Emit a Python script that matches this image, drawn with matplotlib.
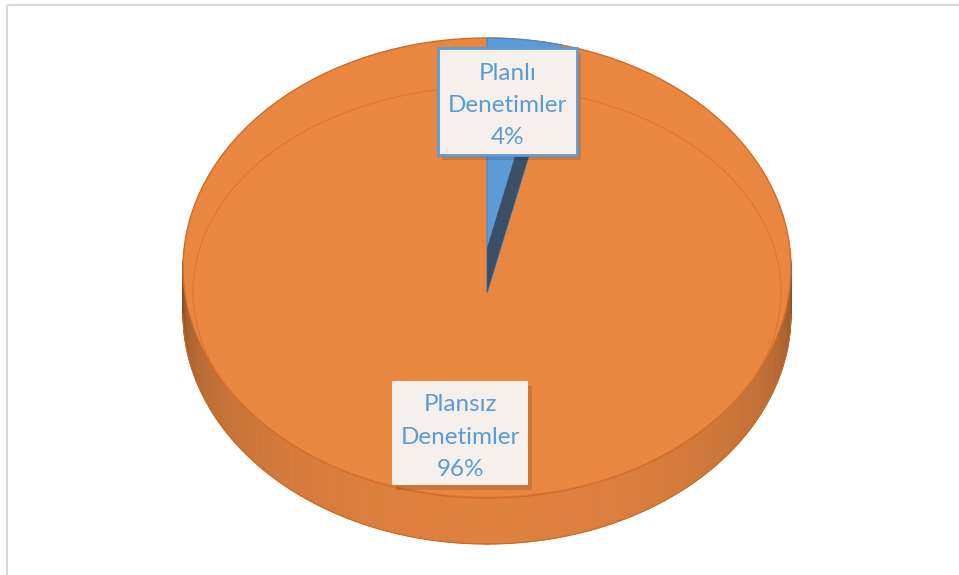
import numpy as np
import matplotlib
matplotlib.use("Agg")
import matplotlib.pyplot as plt
from matplotlib.patches import Ellipse, Polygon, Rectangle
from matplotlib.collections import PolyCollection

# Share of inspections by type
categories = ["Planlı Denetimler", "Plansız Denetimler"]
shares = [4, 96]
slice_colors = ["#5D9BD6", "#E98740"]

plt.rcParams['font.family'] = ['Lato', 'DejaVu Sans']

fig = plt.figure(figsize=(9.59, 5.75), dpi=100)
ax = fig.add_axes([0, 0, 1, 1])
ax.set_xlim(0, 959)
ax.set_ylim(575, 0)
ax.axis("off")

# chart area frame
ax.add_patch(Rectangle((6.5, 4.5), 960, 600, fill=False, ec="#D9D9D9", lw=1.5))

# pie geometry (pixels)
cx, cy = 487, 268          # centre of the top face outline
a, b = 304, 230            # semi axes of the top face
apex_y = 293               # where the slices meet
depth = 46                 # thickness of the disc


def rim(theta):
    # theta measured clockwise from 12 o'clock, degrees
    t = np.radians(theta)
    return cx + a * np.sin(t), cy - b * np.cos(t)


# side wall, shaded darker towards the left and right ends
quads, cols = [], []
base = np.array([222, 128, 62]) / 255
dark = np.array([105, 62, 30]) / 255
thetas = np.linspace(88, 272, 300)
for t0, t1 in zip(thetas[:-1], thetas[1:]):
    x0, y0 = rim(t0)
    x1, y1 = rim(t1)
    quads.append([(x0, y0), (x1, y1), (x1, y1 + depth), (x0, y0 + depth)])
    tm = np.radians((t0 + t1) / 2)
    k = np.clip(abs(np.cos(tm - np.pi)) ** 0.35, 0, 1)
    cols.append(dark + (base - dark) * k)
ax.add_collection(PolyCollection(quads, facecolors=cols, edgecolors=cols, lw=0.6))

# outline of the bottom edge
tt = np.linspace(90, 270, 200)
bx, by = rim(tt)
ax.plot(bx, by + depth, color="#C96A26", lw=0.8)

# top face: large slice as the full disc, small slice on top
ax.add_patch(Ellipse((cx, cy), 2 * a, 2 * b, fc=slice_colors[1], ec="#D06C24", lw=1.0))

fracs = np.array(shares) / sum(shares)
start = 0.0
wedges = []
for f in fracs:
    wedges.append((start, start + 360 * f))
    start += 360 * f

t_a, t_b = wedges[0]
ts = np.linspace(t_a, t_b, 30)
wx, wy = rim(ts)
pts = [(cx, apex_y)] + list(zip(wx, wy))
ax.add_patch(Polygon(pts, closed=True, fc=slice_colors[0], ec="#4A86C5", lw=0.8))

# cut face of the small slice
ex, ey = rim(t_b)
slope = (ex - cx) / (apex_y - ey)
shift = depth - 1
top_x = cx + slope * (apex_y - ey - shift)
cross_y = apex_y - shift
cut = Polygon([(cx, apex_y), (cx, cross_y), (top_x, ey), (ex, ey)],
              closed=True, fc="#3B4F66", ec="none")
ax.add_patch(cut)
clip = Rectangle((0, 50), 959, 525, transform=ax.transData)
cut.set_clip_path(clip)

# bevel line on the top face
ax.add_patch(Ellipse((cx, 292), 2 * 294, 2 * 205, fill=False, ec="#DB7330", lw=0.9, alpha=0.8))

# data labels
labels = [f"{c.split()[0]}\n{c.split()[1]}\n{s}%" for c, s in zip(categories, shares)]
boxes = [(438, 48, 139, 107, True), (392, 381, 136, 104, False)]
for text, (bx0, by0, bw, bh, border) in zip(labels, boxes):
    ax.add_patch(Rectangle((bx0 + 4, by0 + 5), bw, bh, fc="#000000", alpha=0.12, ec="none"))
    ax.add_patch(Rectangle((bx0, by0), bw, bh, fc="#F6F0EC",
                           ec="#5D9BD6" if border else "none", lw=2.0))
    ax.text(bx0 + bw / 2, by0 + bh / 2 + 4, text, ha="center", va="center",
            color="#5B9BD5", fontsize=17.5, linespacing=1.66)

fig.savefig("out.png", dpi=100)
